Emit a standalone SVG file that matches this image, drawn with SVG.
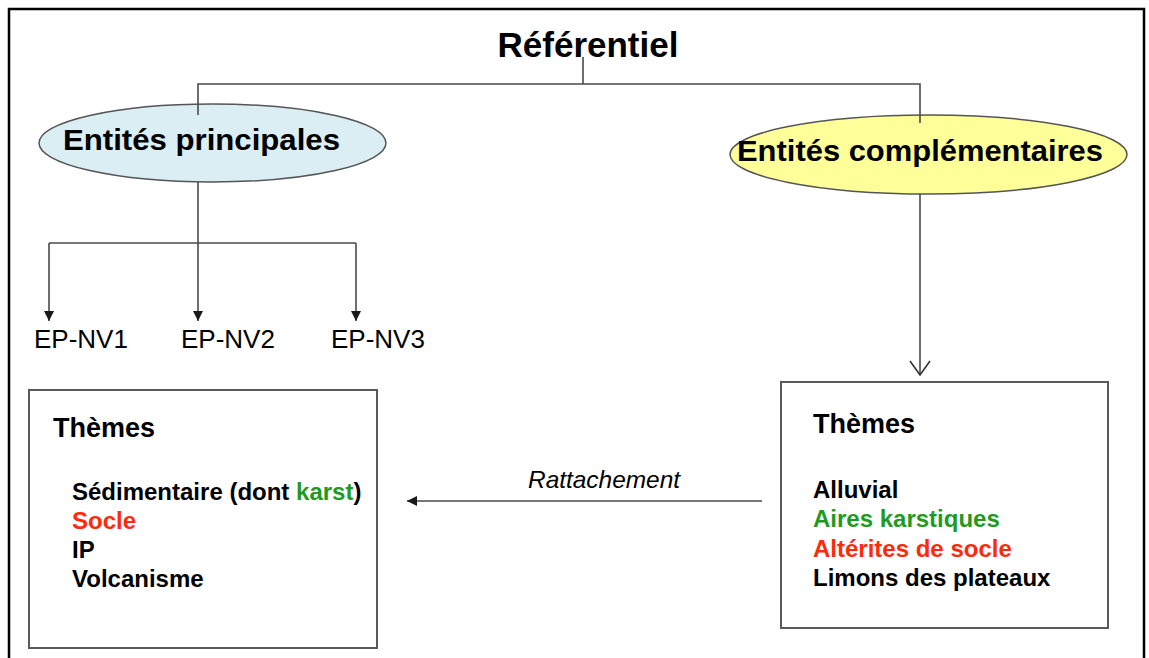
<svg xmlns="http://www.w3.org/2000/svg" width="1149" height="658" viewBox="0 0 1149 658">
  <defs>
    <style>
      .frame { fill: none; stroke: #000; stroke-width: 2.5; }
      .conn { fill: none; stroke: #4a4a4a; stroke-width: 1.6; }
      .box { fill: #fff; stroke: #5a5a5a; stroke-width: 2; }
      .ell { stroke: #555; stroke-width: 1.5; }
      .b { font-family: "Liberation Sans", Arial, sans-serif; font-weight: bold; fill: #000; }
      .r { font-family: "Liberation Sans", Arial, sans-serif; fill: #000; }
      .green { fill: #1e9b1e; }
      .red { fill: #ff2a0a; }
    </style>
    <marker id="tri" viewBox="0 0 10 10" refX="10" refY="5" markerWidth="10" markerHeight="10" markerUnits="userSpaceOnUse" orient="auto">
      <path d="M0,0 L10,5 L0,10 z" fill="#1a1a1a"/>
    </marker>
    <marker id="vee" viewBox="0 0 16 22" refX="15" refY="11" markerWidth="16" markerHeight="22" markerUnits="userSpaceOnUse" orient="auto">
      <path d="M1,1 L15,11 L1,21" fill="none" stroke="#333" stroke-width="1.6"/>
    </marker>
  </defs>

  <rect width="1149" height="658" fill="#fff"/>
  <path class="frame" d="M9,662 V9 H1144 V662"/>

  <g id="referentiel">
    <text class="b" x="588" y="57" font-size="35" text-anchor="middle">Référentiel</text>
  </g>

  <g id="entites-principales">
    <ellipse class="ell" cx="212.5" cy="143" rx="173.5" ry="39" fill="#dbeef3"/>
    <text class="b" x="63" y="150" font-size="29" textLength="277" lengthAdjust="spacingAndGlyphs">Entités principales</text>
  </g>

  <g id="entites-complementaires">
    <ellipse class="ell" cx="928.5" cy="154.5" rx="198.5" ry="39.5" fill="#ffff99"/>
    <text class="b" x="737" y="161" font-size="29" textLength="366" lengthAdjust="spacingAndGlyphs">Entités complémentaires</text>
  </g>

  <g id="ep-nv1"><text class="r" x="34" y="348" font-size="26">EP-NV1</text></g>
  <g id="ep-nv2"><text class="r" x="181" y="348" font-size="26">EP-NV2</text></g>
  <g id="ep-nv3"><text class="r" x="331" y="348" font-size="26">EP-NV3</text></g>

  <g id="themes-principaux">
    <rect class="box" x="29" y="390" width="348" height="258"/>
    <text class="b" x="53" y="437" font-size="27">Thèmes</text>
    <text class="b" x="72" y="500" font-size="24">Sédimentaire (dont <tspan class="green">karst</tspan>)</text>
    <text class="b red" x="72" y="529" font-size="24">Socle</text>
    <text class="b" x="72" y="558" font-size="24">IP</text>
    <text class="b" x="72" y="587" font-size="24">Volcanisme</text>
  </g>

  <g id="themes-complementaires">
    <rect class="box" x="781" y="382" width="327" height="246"/>
    <text class="b" x="813" y="433" font-size="27">Thèmes</text>
    <text class="b" x="813" y="498" font-size="24">Alluvial</text>
    <text class="b green" x="813" y="527" font-size="24">Aires karstiques</text>
    <text class="b red" x="813" y="557" font-size="24">Altérites de socle</text>
    <text class="b" x="813" y="586" font-size="24">Limons des plateaux</text>
  </g>

  <g id="connectors">
    <path class="conn" d="M583,57 V84"/>
    <path class="conn" d="M198,115 V84 H920 V123"/>
    <path class="conn" d="M198,182 V321" marker-end="url(#tri)"/>
    <path class="conn" d="M49,243 H356"/>
    <path class="conn" d="M49,243 V321" marker-end="url(#tri)"/>
    <path class="conn" d="M356,243 V321" marker-end="url(#tri)"/>
    <path class="conn" d="M920,194 V375" marker-end="url(#vee)"/>
    <path class="conn" d="M762,501 H407" marker-end="url(#tri)"/>
    <text class="r" x="528" y="488" font-size="24" font-style="italic" textLength="152" lengthAdjust="spacingAndGlyphs">Rattachement</text>
  </g>
</svg>
